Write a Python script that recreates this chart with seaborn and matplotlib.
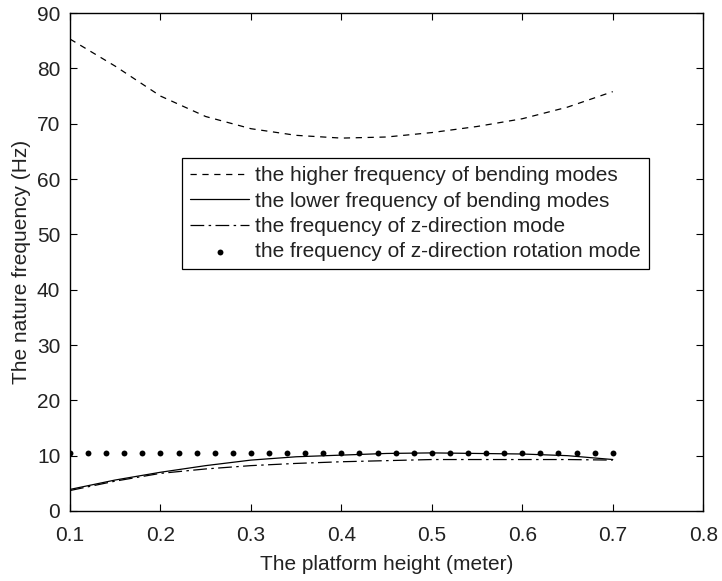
import matplotlib
matplotlib.use("Agg")
import matplotlib.pyplot as plt
import seaborn as sns

# Data
height = [0.10, 0.15, 0.20, 0.25, 0.30, 0.35, 0.40, 0.45, 0.50, 0.55, 0.60, 0.65, 0.70]
higher_bending = [85.3, 80.4, 75.0, 71.3, 69.1, 67.9, 67.4, 67.6, 68.4, 69.5, 70.9, 73.0, 75.8]
lower_bending = [3.9, 5.6, 7.0, 8.2, 9.2, 9.8, 10.1, 10.4, 10.5, 10.4, 10.3, 10.0, 9.3]
z_direction = [3.7, 5.4, 6.8, 7.6, 8.2, 8.6, 8.9, 9.1, 9.3, 9.3, 9.3, 9.3, 9.2]

rot_height = [0.10, 0.12, 0.14, 0.16, 0.18, 0.20, 0.22, 0.24, 0.26, 0.28, 0.30,
              0.32, 0.34, 0.36, 0.38, 0.40, 0.42, 0.44, 0.46, 0.48, 0.50,
              0.52, 0.54, 0.56, 0.58, 0.60, 0.62, 0.64, 0.66, 0.68, 0.70]
rot_z = [10.5, 10.5, 10.5, 10.5, 10.5, 10.5, 10.5, 10.5, 10.5, 10.5, 10.5,
         10.5, 10.5, 10.5, 10.5, 10.5, 10.5, 10.5, 10.5, 10.5, 10.5,
         10.5, 10.5, 10.5, 10.5, 10.5, 10.5, 10.5, 10.5, 10.5, 10.5]

sns.set_style("ticks")
plt.rcParams['font.family'] = ['Liberation Sans', 'DejaVu Sans']
txt = '#222222'

fig = plt.figure(figsize=(7.22, 5.81), dpi=100)
ax = fig.add_axes([0.097, 0.1205, 0.877, 0.857])

sns.lineplot(x=height, y=higher_bending, ax=ax, color='black', lw=0.9,
             linestyle=(0, (5, 4.5)), label='the higher frequency of bending modes')
sns.lineplot(x=height, y=lower_bending, ax=ax, color='black', lw=0.9,
             label='the lower frequency of bending modes')
sns.lineplot(x=height, y=z_direction, ax=ax, color='black', lw=0.9,
             linestyle=(0, (11, 3.5, 2, 3.5)), label='the frequency of z-direction mode')
sns.scatterplot(x=rot_height, y=rot_z, ax=ax, color='black', s=18, linewidth=0,
                label='the frequency of z-direction rotation mode')

ax.set_xlim(0.1, 0.8)
ax.set_ylim(0, 90)
ax.set_xticks([0.1, 0.2, 0.3, 0.4, 0.5, 0.6, 0.7, 0.8])
ax.set_yticks(range(0, 91, 10))
ax.tick_params(direction='in', top=True, right=True, length=5, width=0.8,
               labelsize=15, color='black', labelcolor=txt, pad=7)
ax.tick_params(axis='x', pad=11)
for sp in ax.spines.values():
    sp.set_visible(True)
    sp.set_linewidth(1.0)
    sp.set_color('black')

ax.set_xlabel('The platform height (meter)', fontsize=15, color=txt, labelpad=7)
ax.set_ylabel('The nature frequency (Hz)', fontsize=15, color=txt, labelpad=4)

leg = ax.legend(loc='upper left', bbox_to_anchor=(0.177, 0.709), fontsize=15,
                frameon=True, fancybox=False, framealpha=1, edgecolor='black',
                handlelength=2.8, handletextpad=0.3, borderpad=0.4,
                labelspacing=0.3, borderaxespad=0)
leg.get_frame().set_linewidth(0.9)
for t in leg.get_texts():
    t.set_color(txt)

fig.savefig('out.png', dpi=100)
